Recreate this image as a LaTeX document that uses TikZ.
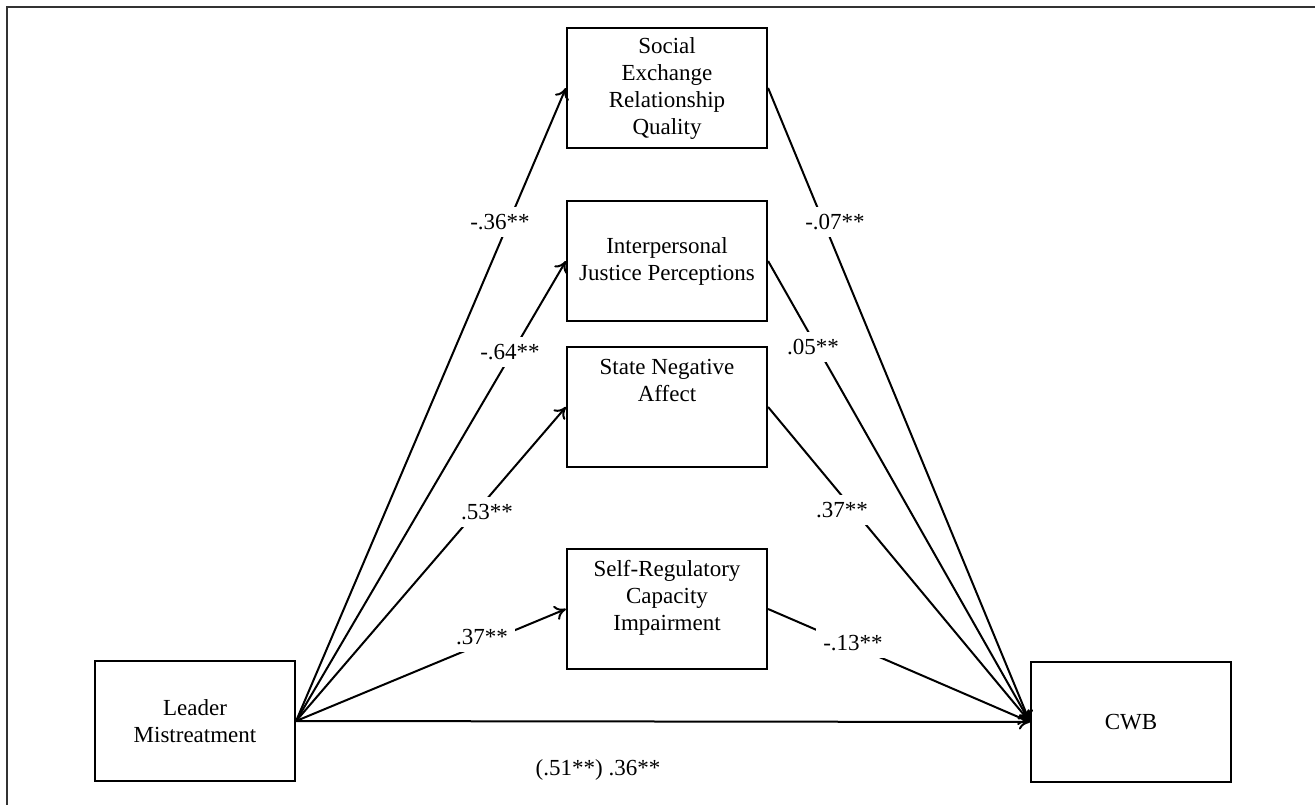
\documentclass[tikz,border=0pt]{standalone}
\usepackage{fontspec}
\setmainfont{Liberation Serif}
\usetikzlibrary{arrows.meta}
\begin{document}
\begin{tikzpicture}[x=1pt,y=-1pt,
  box/.style={draw, line width=2.2pt, minimum width=200pt, minimum height=120pt, align=center, inner sep=0pt, font=\fontsize{23}{27}\selectfont},
  conn/.style={line width=2pt, -{To[length=11pt,width=15pt]}},
  lab/.style={fill=white, inner sep=7pt, font=\fontsize{23}{27}\selectfont},
  plainlab/.style={inner sep=2pt, font=\fontsize{23}{27}\selectfont}]
\useasboundingbox (0,0) rectangle (1315,804);
\draw[line width=2.2pt, black!80] (7,810) -- (7,7) -- (1320,7);

\node[box] (L) at (195,721) {Leader\\Mistreatment};
\node[box] (C) at (1131,722) {CWB};
\node[box] (S) at (667,88) {Social\\Exchange\\Relationship\\Quality};
\node[box] (I) at (667,261) {Interpersonal\\Justice Perceptions};
\node[box] (N) at (667,407) {State Negative\\Affect\\\mbox{}\\\mbox{}};
\node[box] (R) at (667,609) {Self-Regulatory\\Capacity\\Impairment\\\mbox{}};

\foreach \t in {S,I,N,R} {
  \draw[conn] (L.east) -- (\t.west);
  \draw[conn] (\t.east) -- (C.west);
}
\draw[conn] (L.east) -- (C.west);

\node[lab] (l1) at (500,222) {-.36**};
\node[lab] (l2) at (510,352) {-.64**};
\node[lab] (l3) at (487,512) {.53**};
\node[lab] (l4) at (482,637) {.37**};
\node[lab] (r1) at (835,222) {-.07**};
\node[lab] (r2) at (813,347) {.05**};
\node[lab] (r3) at (842,510) {.37**};
\node[lab] (r4) at (853,643) {-.13**};
\node[plainlab] (d) at (598,770) {(.51**) .36**};
\end{tikzpicture}
\end{document}
